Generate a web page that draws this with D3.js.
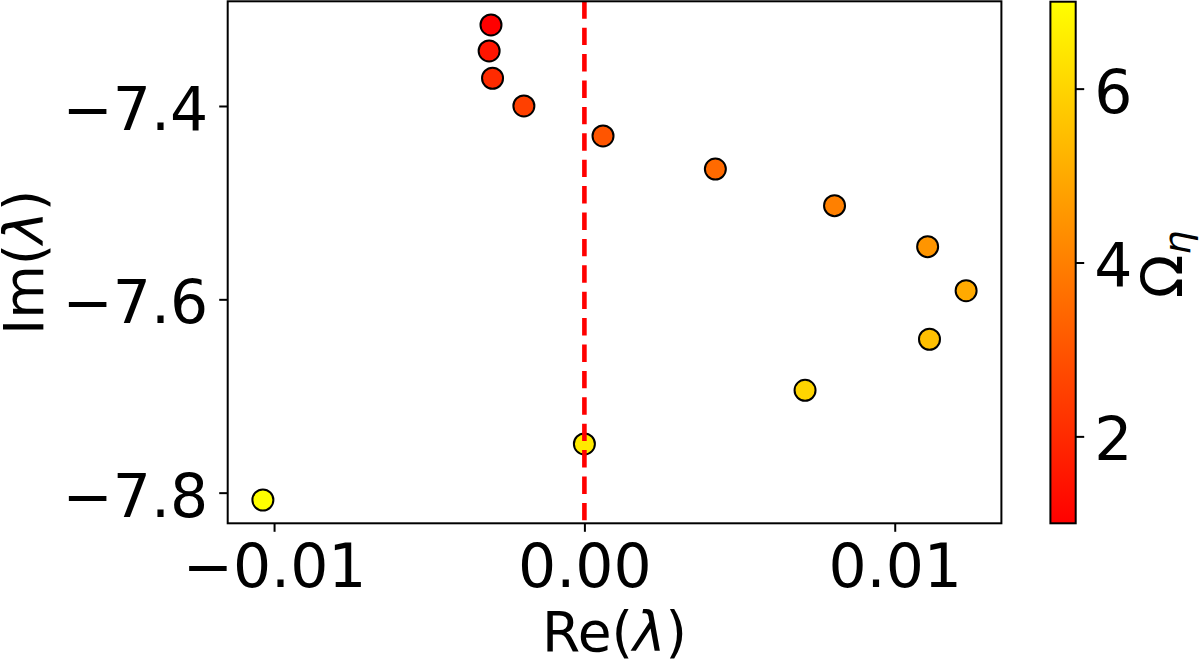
<!DOCTYPE html>
<html>
<head>
<meta charset="utf-8">
<script src="https://cdn.jsdelivr.net/npm/d3@7"></script>
<style>
  body { margin: 0; background: #fff; }
  svg { display: block; font-family: "DejaVu Sans", sans-serif; }
</style>
</head>
<body>
<div id="chart"></div>
<script>
// Data
const reLambda = [-0.00301, -0.00307, -0.00296, -0.00195, 0.00060, 0.00422, 0.00806,
                  0.01106, 0.01230, 0.01112, 0.00711, 0.00000, -0.01036];
const imLambda = [-7.3162, -7.3431, -7.3713, -7.4000, -7.4310, -7.4652, -7.5031,
                  -7.5455, -7.5911, -7.6413, -7.6941, -7.7496, -7.8076];
const omegaEta = [1, 1.5, 2, 2.5, 3, 3.5, 4, 4.5, 5, 5.5, 6, 6.5, 7];

const xTicks = [-0.01, 0, 0.01];
const yTicks = [-7.8, -7.6, -7.4];
const cTicks = [2, 4, 6];

const xDomain = [-0.011494, 0.013437];
const yDomain = [-7.8317, -7.2917];
const cDomain = [1, 7];

// Layout
const width = 1200, height = 659;
const plot = { left: 227.7, right: 1001.4, top: 1.3, bottom: 523.3 };
const cbar = { left: 1050.4, right: 1075.7, top: 1.7, bottom: 523.3 };
const tickFont = "60px";
const labelFont = "55px";

const svg = d3.select("#chart").append("svg")
  .attr("width", width)
  .attr("height", height);

const x = d3.scaleLinear().domain(xDomain).range([plot.left, plot.right]);
const y = d3.scaleLinear().domain(yDomain).range([plot.bottom, plot.top]);
const cy = d3.scaleLinear().domain(cDomain).range([cbar.bottom, cbar.top]);
// matplotlib "autumn": red -> yellow
const color = d3.scaleLinear().domain(cDomain).range(["#ff0000", "#ffff00"]);

function styleAxis(g) {
  g.select(".domain").remove();
  g.selectAll(".tick line").attr("stroke", "#000").attr("stroke-width", 2);
  g.selectAll(".tick text")
    .attr("fill", "#000")
    .style("font-size", tickFont)
    .style("font-family", "DejaVu Sans");
}

// Axes
svg.append("g")
  .attr("transform", `translate(0,${plot.bottom})`)
  .call(d3.axisBottom(x).tickValues(xTicks).tickFormat(d3.format(".2f"))
    .tickSize(8.5).tickPadding(10))
  .call(styleAxis)
  .call(g => g.selectAll(".tick text").attr("dy", null).attr("y", 64));

svg.append("g")
  .attr("transform", `translate(${plot.left},0)`)
  .call(d3.axisLeft(y).tickValues(yTicks).tickFormat(d3.format(".1f"))
    .tickSize(8.5).tickPadding(11))
  .call(styleAxis)
  .call(g => g.selectAll(".tick text").attr("dy", "0.39em"));

// Points
svg.append("g")
  .selectAll("circle")
  .data(reLambda.map((d, i) => ({ re: d, im: imLambda[i], om: omegaEta[i] })))
  .join("circle")
  .attr("cx", d => x(d.re))
  .attr("cy", d => y(d.im))
  .attr("r", 10.5)
  .attr("fill", d => color(d.om))
  .attr("stroke", "#000")
  .attr("stroke-width", 2);

// Dashed line at Re = 0, above the points
svg.append("line")
  .attr("x1", x(0)).attr("x2", x(0))
  .attr("y1", plot.top).attr("y2", plot.bottom)
  .attr("stroke", "#ff0000")
  .attr("stroke-width", 4.6)
  .attr("stroke-dasharray", "17.4 9");

// Frame
svg.append("rect")
  .attr("x", plot.left).attr("y", plot.top)
  .attr("width", plot.right - plot.left)
  .attr("height", plot.bottom - plot.top)
  .attr("fill", "none")
  .attr("stroke", "#000")
  .attr("stroke-width", 2);

// Axis labels
const xl = svg.append("text")
  .attr("x", (plot.left + plot.right) / 2)
  .attr("y", 650.7)
  .attr("text-anchor", "middle")
  .style("font-size", labelFont);
xl.append("tspan").text("Re(");
xl.append("tspan").style("font-style", "italic").text("λ");
xl.append("tspan").text(")");

const yl = svg.append("text")
  .attr("transform", `translate(43.3,${(plot.top + plot.bottom) / 2}) rotate(-90)`)
  .attr("text-anchor", "middle")
  .style("font-size", labelFont);
yl.append("tspan").text("Im(");
yl.append("tspan").style("font-style", "italic").text("λ");
yl.append("tspan").text(")");

// Colorbar
const grad = svg.append("defs").append("linearGradient")
  .attr("id", "autumn")
  .attr("x1", 0).attr("y1", 1).attr("x2", 0).attr("y2", 0);
grad.selectAll("stop")
  .data(cDomain)
  .join("stop")
  .attr("offset", (d, i) => i)
  .attr("stop-color", d => color(d));

svg.append("rect")
  .attr("x", cbar.left).attr("y", cbar.top)
  .attr("width", cbar.right - cbar.left)
  .attr("height", cbar.bottom - cbar.top)
  .attr("fill", "url(#autumn)")
  .attr("stroke", "#000")
  .attr("stroke-width", 2);

svg.append("g")
  .attr("transform", `translate(${cbar.right},0)`)
  .call(d3.axisRight(cy).tickValues(cTicks).tickFormat(d3.format("d"))
    .tickSize(8.5).tickPadding(10))
  .call(styleAxis)
  .call(g => g.selectAll(".tick text").attr("dy", "0.39em"));

const cl = svg.append("text")
  .attr("transform", `translate(1183.3,${(cbar.top + cbar.bottom) / 2 + 2}) rotate(-90)`)
  .attr("text-anchor", "middle")
  .style("font-size", "57px");
cl.append("tspan").text("Ω");
cl.append("tspan").attr("dy", 7).style("font-size", "38px").style("font-style", "italic").text("η");
</script>
</body>
</html>
